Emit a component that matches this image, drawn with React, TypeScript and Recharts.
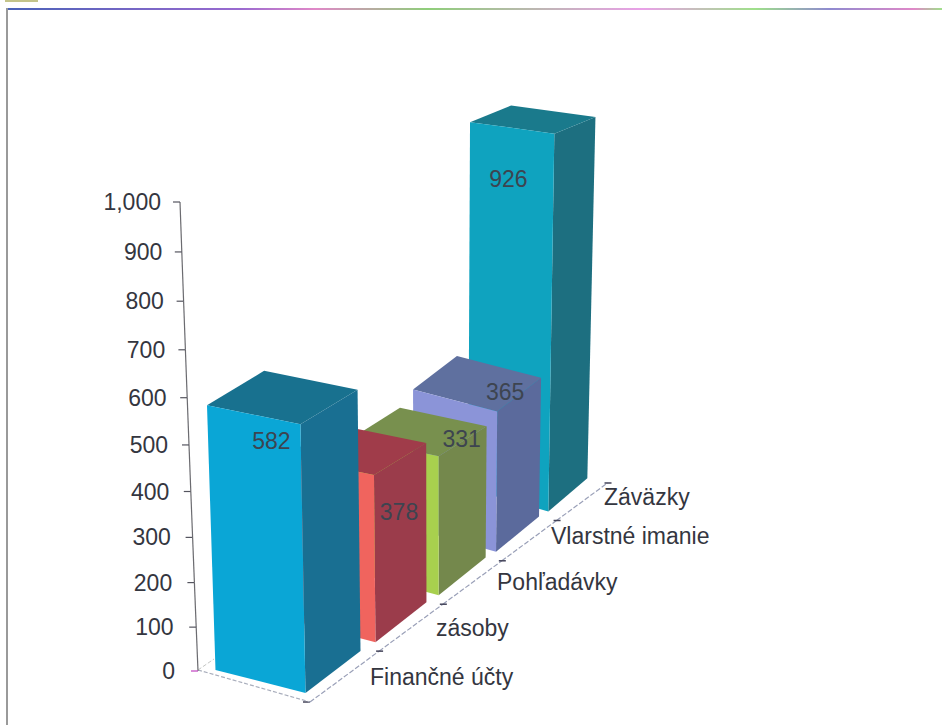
import React from 'react';
import { BarChart, Bar, XAxis, YAxis, LabelList } from 'recharts';

// listed back to front, so the nearest bar paints last
const categories = ['Záväzky', 'Vlarstné imanie', 'Pohľadávky', 'zásoby', 'Finančné účty'];
const values = [926, 365, 331, 378, 582];
const valueTicks = [0, 100, 200, 300, 400, 500, 600, 700, 800, 900, 1000];

const frontColors = ['#0fa3bf', '#8b94d8', '#a8d04e', '#f0645e', '#0aa6d6'];
const sideColors = ['#1d6f80', '#5b6a9c', '#74884c', '#9b3c4b', '#196f92'];
const topColors = ['#1a7a8c', '#5f709f', '#78904e', '#a03c4a', '#18718f'];

const rows = categories.map((name, i) => ({ name, value: values[i], depth: categories.length - 1 - i }));

// fake 3D: how much a category's height shrinks, how flat its top looks, where its label lands
const depthShrink = [0.985, 0.943, 0.895, 0.82, 0.87];
const topFlatten = [0.82, 0.8, 0.8, 0.95, 0.5];
const labelNudge = [[-29, 17], [25, 37], [23, -17], [8, -19], [-46, 45]];

const CHART_W = 942;
const CHART_H = 725;
const PLOT_LEFT = 198;
const PLOT_TOP = 202;
const PLOT_H = 469;
const BAND = 63.5;
const BAR_LEFT = 241.5;
const FONT = '"Liberation Sans", Arial, sans-serif';

const recede = (z: number) => z / (1 + 0.042 * z);
const recedeX = (z: number) => z / (1 + 0.0535 * z);
// verticals spread apart going up, away from this x
const leanAt = (x: number) => (x - 437) / 7000;

function corners(x: number, width: number, y: number, height: number, depth: number) {
  // front right bottom corner, from the band position of the category scale
  const slotShift = 73.7 * recedeX(depth) - BAND * depth;
  const fx = x + width + slotShift;
  const fy = y + height - 53 * recede(depth) + 22;
  const h = height * depthShrink[depth];
  const faceW = 90 - 2.5 * depth;
  const sideW = 55 - 4 * depth;
  const sideH = 42 - 2.2 * depth;
  const flat = topFlatten[depth];
  const top = (px: number, py: number) => [px + leanAt(px) * h, py - h] as const;
  const frontRightB = [fx, fy] as const;
  const frontLeftB = [fx - faceW, fy - 23] as const;
  const backRightB = [fx + sideW, fy - sideH] as const;
  const frontRightT = top(fx, fy);
  const frontLeftT = top(fx - faceW, fy - 23 * flat);
  const backRightT = top(fx + sideW, fy - sideH * flat);
  const backLeftT = top(fx + sideW - faceW, fy - (sideH + 23) * flat);
  return { frontRightB, frontLeftB, backRightB, frontRightT, frontLeftT, backRightT, backLeftT };
}

const pts = (list: ReadonlyArray<readonly [number, number]>) => list.map((p) => p.join(',')).join(' ');

const Box3D = (props: any) => {
  const { x, width, y, height, payload } = props;
  const { depth } = payload;
  const c = corners(x, width, y, height, depth);
  const i = categories.length - 1 - depth;
  return (
    <g>
      <polygon points={pts([c.frontRightB, c.backRightB, c.backRightT, c.frontRightT])} fill={sideColors[i]} />
      <polygon points={pts([c.frontLeftT, c.frontRightT, c.backRightT, c.backLeftT])} fill={topColors[i]} />
      <polygon points={pts([c.frontLeftB, c.frontRightB, c.frontRightT, c.frontLeftT])} fill={frontColors[i]} />
    </g>
  );
};

const BoxLabel = (props: any) => {
  const { x, width, y, height, value, index } = props;
  const depth = categories.length - 1 - index;
  const c = corners(x, width, y, height, depth);
  return (
    <text
      x={c.frontRightT[0] + labelNudge[depth][0]}
      y={c.frontRightT[1] + labelNudge[depth][1] + 8}
      textAnchor="middle"
      fontFamily={FONT}
      fontSize={23}
      fill="#3d4450"
    >
      {value}
    </text>
  );
};

// the value axis leans and compresses with the view, so each tick draws its own stretch of line
const bend = (v: number) => 0.928 * v + 0.072 * v * v;
const ValueTick = (props: any) => {
  const v = props.payload.value as number;
  const base = PLOT_TOP + PLOT_H;
  const yAt = (t: number) => base - bend(t / 1000) * PLOT_H;
  const xAt = (t: number) => PLOT_LEFT - (t / 1000) * 18;
  const yy = yAt(v);
  const xx = xAt(v);
  return (
    <g>
      {v < 1000 && <line x1={xx} y1={yy} x2={xAt(v + 100)} y2={yAt(v + 100)} stroke="#6b6b70" strokeWidth={1.2} />}
      <line x1={xx - 7} y1={yy} x2={xx} y2={yy} stroke={v === 0 ? '#c040c0' : '#55555f'} strokeWidth={1.2} />
      <text x={xx - 23 + (4 * v) / 1000} y={yy + 8} textAnchor="end" fontFamily={FONT} fontSize={23} fill="#34363f">
        {v.toLocaleString('en-US')}
      </text>
    </g>
  );
};

const floorAt = (z: number) => [310 + 72 * recede(z), 702 - 53 * recede(z)] as const;
const labelSpots = [[370, 685], [436, 636], [497, 590], [551, 544], [604, 505]];
const CategoryTick = (props: any) => {
  const depth = categories.length - 1 - props.index;
  const [x0, y0] = floorAt(depth);
  const [x1, y1] = floorAt(depth + 1);
  return (
    <g>
      <line x1={x0} y1={y0} x2={x1} y2={y1} stroke="#9aa0b8" strokeWidth={1.2} strokeDasharray="5 2" />
      {depth === 0 && (
        <>
          <line x1={x0 - 7} y1={y0} x2={x0} y2={y0} stroke="#44445a" strokeWidth={1.5} />
          <line x1={198} y1={670} x2={x0} y2={y0} stroke="#a9aebc" strokeWidth={1.2} strokeDasharray="4 2" />
          <line x1={198} y1={670} x2={214} y2={659} stroke="#c4c6c4" strokeWidth={1} strokeDasharray="4 2" />
        </>
      )}
      <line x1={x1 - 3} y1={y1} x2={x1 + 4} y2={y1} stroke="#44445a" strokeWidth={1.5} />
      <text x={labelSpots[depth][0]} y={labelSpots[depth][1]} fontFamily={FONT} fontSize={23} fill="#34363f">
        {props.payload.value}
      </text>
    </g>
  );
};

export default function App() {
  return (
    <div style={{ position: 'absolute', left: 0, top: 0, width: CHART_W, height: CHART_H, background: '#fff', overflow: 'hidden' }}>
      <div style={{ position: 'absolute', left: 5, top: 0, width: 33, height: 2, background: '#c4c48a' }} />
      <div
        style={{
          position: 'absolute',
          left: 6,
          top: 8,
          width: 936,
          height: 2,
          background: 'linear-gradient(90deg, #4a62b8, #9a6ad0 25%, #e088c8 33%, #8fce7a 45%, #e9a0e8 68%, #9fe08a 80%, #8f8ad0 88%, #e088c8 97%, #9fe08a 100%)',
        }}
      />
      <div style={{ position: 'absolute', left: 6, top: 8, width: 1.5, height: 717, background: '#9a9a9a' }} />
      <BarChart
        width={CHART_W}
        height={CHART_H}
        data={rows}
        barCategoryGap={0}
        margin={{ top: PLOT_TOP, right: CHART_W - BAR_LEFT - BAND * 5, bottom: CHART_H - PLOT_TOP - PLOT_H - 1, left: BAR_LEFT - 1 }}
      >
        <XAxis dataKey="name" reversed interval={0} axisLine={false} tickLine={false} tick={<CategoryTick />} height={1} />
        <YAxis
          domain={[0, 1000]}
          ticks={valueTicks}
          interval={0}
          axisLine={false}
          tickLine={false}
          tick={<ValueTick />}
          width={1}
        />
        <Bar dataKey="value" isAnimationActive={false} shape={<Box3D />}>
          <LabelList dataKey="value" content={<BoxLabel />} />
        </Bar>
      </BarChart>
    </div>
  );
}
